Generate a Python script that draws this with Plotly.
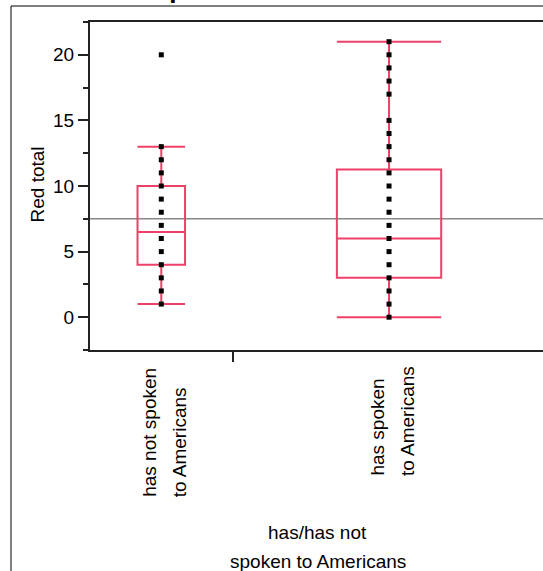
import plotly.graph_objects as go

# ---- data ----
categories = ["has not spoken to Americans", "has spoken to Americans"]
cat_label_lines = [["has not spoken", "to Americans"], ["has spoken", "to Americans"]]
category_share = [0.313, 0.687]          # relative width of each category on the x axis
q1 = [4, 3]
median = [6.5, 6]
q3 = [10, 11.25]
lower_whisker = [1, 0]
upper_whisker = [13, 21]
points_not_spoken = [1, 2, 3, 4, 5, 6, 7, 8, 9, 10, 11, 12, 13, 20]
points_spoken = [0, 1, 2, 3, 4, 5, 6, 7, 8, 9, 10, 11, 12, 13, 14, 15, 17, 18, 19, 20, 21]
grand_mean = 7.5
y_ticks = [0, 5, 10, 15, 20]
y_tick_text = ["0", "5", "10", "15", "20"]
title_text = "Spoken to Americans"
y_title = "Red total"
x_title_lines = ["has/has not", "spoken to Americans"]

# ---- derived positions ----
starts = [sum(category_share[:i]) for i in range(len(category_share))]
centers = [s + w / 2 for s, w in zip(starts, category_share)]
boundaries = [starts[1]]
points = [points_not_spoken, points_spoken]

FONT = "Liberation Sans, Arial, sans-serif"
RED = "#EE4169"
W, H = 543, 571
ML, MT, MB = 90, 22, 221
PW = W - ML
PH = H - MT - MB

def px_x(p):
    return (p - ML) / PW

def px_y(p):
    return (MT + PH - p) / PH

fig = go.Figure()
for i, cat in enumerate(categories):
    fig.add_trace(go.Box(
        x=[centers[i]], q1=[q1[i]], median=[median[i]], q3=[q3[i]],
        lowerfence=[lower_whisker[i]], upperfence=[upper_whisker[i]],
        width=category_share[i] / 3, whiskerwidth=1,
        line=dict(color=RED, width=2), fillcolor="rgba(0,0,0,0)",
        boxpoints=False, name=cat, showlegend=False,
    ))
for i, cat in enumerate(categories):
    fig.add_trace(go.Scatter(
        x=[centers[i]] * len(points[i]), y=points[i], mode="markers",
        marker=dict(symbol="square", size=5, color="black"),
        name=cat, showlegend=False,
    ))

fig.add_shape(type="line", xref="paper", x0=0, x1=1, yref="y",
              y0=grand_mean, y1=grand_mean,
              line=dict(color="#888888", width=1.5), layer="below")
fig.add_shape(type="rect", xref="paper", yref="paper",
              x0=px_x(11), x1=1.3, y0=-1.2, y1=px_y(6),
              line=dict(color="black", width=1))

ann = []
ann.append(dict(text="<b>" + title_text + "</b>", xref="paper", yref="paper",
                x=px_x(284), y=px_y(6), xanchor="center", yanchor="bottom",
                showarrow=False, font=dict(family=FONT, size=26, color="black")))
ann.append(dict(text=y_title, xref="paper", yref="paper", textangle=-90,
                x=px_x(36.5), y=px_y(185), xanchor="center", yanchor="middle",
                showarrow=False, font=dict(family=FONT, size=19, color="black")))
for j, line in enumerate(x_title_lines):
    ann.append(dict(text=line, xref="paper", yref="paper",
                    x=px_x(317.7), y=px_y([532, 561.6][j]),
                    xanchor="center", yanchor="middle", showarrow=False,
                    font=dict(family=FONT, size=19, color="black")))
label_bottom_px = [497, 476]
line_shift = [-12, 18]
for i, lines in enumerate(cat_label_lines):
    for j, line in enumerate(lines):
        ann.append(dict(text=line, xref="x", yref="paper", x=centers[i],
                        xshift=line_shift[j], y=px_y(label_bottom_px[i]),
                        textangle=-90, xanchor="center", yanchor="bottom",
                        borderpad=0, borderwidth=0, showarrow=False,
                        font=dict(family=FONT, size=19, color="black")))

fig.update_layout(
    width=W, height=H,
    margin=dict(l=ML, r=0, t=MT, b=MB, autoexpand=False),
    paper_bgcolor="white", plot_bgcolor="white",
    annotations=ann, showlegend=False,
    font=dict(family=FONT, size=19, color="black"),
    xaxis=dict(range=[0, PW / 455.5], tickvals=boundaries, ticktext=[""],
               ticks="outside", ticklen=10, tickwidth=2, tickcolor="#222",
               showline=True, linewidth=2, linecolor="#222", mirror=True,
               showgrid=False, zeroline=False),
    yaxis=dict(range=[-2.5, 22.5], tickvals=y_ticks, ticktext=y_tick_text,
               ticks="outside", ticklen=10, tickwidth=1.5, tickcolor="#222",
               showline=True, linewidth=2, linecolor="#222",
               showgrid=False, zeroline=False,
               tickfont=dict(family=FONT, size=19, color="black"),
               minor=dict(dtick=2.5, tick0=0, ticks="outside", ticklen=5,
                          tickwidth=1.5, tickcolor="#222", showgrid=False)),
)

fig.write_html(
    "out.html",
    config={"displayModeBar": False},
    post_script="document.documentElement.style.margin='0';"
                "document.body.style.margin='0';"
                "document.body.style.padding='0';"
                "document.body.style.overflow='hidden';",
)
